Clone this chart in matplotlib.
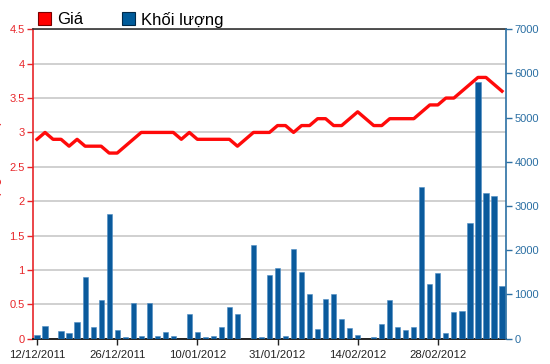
import matplotlib
matplotlib.use("Agg")
import matplotlib.pyplot as plt
from matplotlib.patches import Patch

price = [2.9, 3.0, 2.9, 2.9, 2.8, 2.9, 2.8, 2.8, 2.8, 2.7,
         2.7, 2.8, 2.9, 3.0, 3.0, 3.0, 3.0, 3.0, 2.9, 3.0,
         2.9, 2.9, 2.9, 2.9, 2.9, 2.8, 2.9, 3.0, 3.0, 3.0,
         3.1, 3.1, 3.0, 3.1, 3.1, 3.2, 3.2, 3.1, 3.1, 3.2,
         3.3, 3.2, 3.1, 3.1, 3.2, 3.2, 3.2, 3.2, 3.3, 3.4,
         3.4, 3.5, 3.5, 3.6, 3.7, 3.8, 3.8, 3.7, 3.6]
volume = [90, 280, 0, 170, 120, 370, 1390, 260, 880, 2830,
          200, 40, 800, 70, 800, 70, 150, 70, 0, 570,
          150, 40, 70, 260, 710, 570, 0, 2120, 30, 1440,
          1610, 50, 2030, 1520, 1010, 220, 900, 1010, 450, 250,
          90, 0, 30, 340, 870, 260, 200, 260, 3430, 1240,
          1490, 120, 600, 620, 2620, 5800, 3290, 3230, 1190]
tick_idx = [0, 10, 20, 30, 40, 50]
tick_labels = ["12/12/2011", "26/12/2011", "10/01/2012",
               "31/01/2012", "14/02/2012", "28/02/2012"]
price_ticks = [0, 0.5, 1, 1.5, 2, 2.5, 3, 3.5, 4, 4.5]
price_tick_labels = ["0", "0.5", "1", "1.5", "2", "2.5", "3", "3.5", "4", "4.5"]
vol_ticks = [0, 1000, 2000, 3000, 4000, 5000, 6000, 7000]
legend_labels = ["Giá", "Khối lượng"]

RED = "#e8262a"
LINE_RED = "#ff0a0a"
BLUE = "#0a5a9c"
AX_BLUE = "#2b6fa3"

plt.rcParams['font.family'] = ['Liberation Sans', 'DejaVu Sans']

fig = plt.figure(figsize=(5.5, 3.64), dpi=100)
ax = fig.add_axes([33/550, 1 - 338.7/364, (506-33)/550, (338.7-29.3)/364])
x = list(range(len(price)))

# price axis (left) with grid
ax.set_xlim(-0.5, len(price) - 0.5)
ax.set_ylim(0, 4.5)
ax.set_yticks(price_ticks)
ax.set_yticklabels(price_tick_labels)
ax.grid(axis='y', color='#c8c8c8', linewidth=1.2)
ax.set_axisbelow(True)
ax.tick_params(axis='y', colors=RED, labelcolor=RED, length=4, width=1, pad=2, labelsize=8)
ax.set_xticks(tick_idx)
ax.set_xticklabels(tick_labels)
ax.tick_params(axis='x', colors='#222222', length=4, width=1, pad=4, labelsize=8.2)
ax.spines['left'].set_color(RED)
ax.spines['left'].set_linewidth(1.2)
ax.spines['right'].set_visible(False)
ax.spines['top'].set_color('#333333')
ax.spines['top'].set_linewidth(1.2)
ax.spines['bottom'].set_color('#222222')
ax.spines['bottom'].set_linewidth(1.4)

# volume axis (right)
ax2 = ax.twinx()
ax2.bar(x, volume, width=0.65, color=BLUE, edgecolor='#4d8cc4', linewidth=0.4, zorder=2)
ax2.set_ylim(0, 7000)
ax2.set_yticks(vol_ticks)
ax2.tick_params(axis='y', colors=AX_BLUE, labelcolor=AX_BLUE, length=4, width=1, pad=2, labelsize=8)
for s in ['left', 'top', 'bottom']:
    ax2.spines[s].set_visible(False)
ax2.spines['right'].set_color(AX_BLUE)
ax2.spines['right'].set_linewidth(1.2)

# price line on top
ax3 = ax.twinx()
ax3.set_ylim(0, 4.5)
ax3.plot(x, price, color=LINE_RED, linewidth=2.4, solid_joinstyle='round', zorder=5)
ax3.set_yticks([])
for s in ax3.spines.values():
    s.set_visible(False)

# rotated axis label, mostly outside the left edge as in the reference
fig.text(-0.0085, 0.53, "Giá (nghìn VNĐ)", rotation=90, color=RED,
         fontsize=10, ha='center', va='center')

handles = [Patch(facecolor='#ff0000', edgecolor='#7a0000', linewidth=0.8),
           Patch(facecolor='#005b9a', edgecolor='#002a4a', linewidth=0.8)]
fig.legend(handles=handles, labels=legend_labels, loc='center left',
           bbox_to_anchor=(38/550, 1 - 19.5/364), ncol=2, frameon=False,
           fontsize=12, handlelength=0.8, handleheight=0.8, handletextpad=0.35,
           columnspacing=2.3, borderpad=0, borderaxespad=0)

fig.savefig("out.png", dpi=100)
